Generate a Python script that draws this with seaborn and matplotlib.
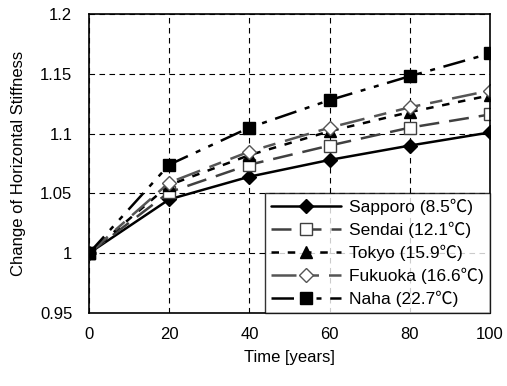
import matplotlib
matplotlib.use("Agg")
import matplotlib.pyplot as plt
import seaborn as sns
import pandas as pd

years = [0, 20, 40, 60, 80, 100]
sapporo = [1.000, 1.045, 1.064, 1.078, 1.090, 1.101]
sendai = [1.000, 1.051, 1.074, 1.090, 1.105, 1.116]
tokyo = [1.000, 1.057, 1.082, 1.102, 1.118, 1.132]
fukuoka = [1.000, 1.059, 1.085, 1.105, 1.122, 1.136]
naha = [1.000, 1.074, 1.105, 1.128, 1.148, 1.167]
labels = ["Sapporo (8.5℃)", "Sendai (12.1℃)", "Tokyo (15.9℃)",
          "Fukuoka (16.6℃)", "Naha (22.7℃)"]
x_ticks = [0, 20, 40, 60, 80, 100]
y_ticks = [0.95, 1.0, 1.05, 1.1, 1.15, 1.2]
y_ticklabels = ["0.95", "1", "1.05", "1.1", "1.15", "1.2"]

sns.set_style("white")
plt.rcParams["font.family"] = ["Liberation Sans", "Noto Sans CJK JP"]
plt.rcParams["text.color"] = "black"
plt.rcParams["axes.labelcolor"] = "black"
plt.rcParams["xtick.color"] = "black"
plt.rcParams["ytick.color"] = "black"

series = [sapporo, sendai, tokyo, fukuoka, naha]
df = pd.concat(
    [pd.DataFrame({"year": years, "value": v, "site": lab}) for v, lab in zip(series, labels)],
    ignore_index=True,
)

styles = {
    labels[0]: dict(color="black", marker="D", mfc="black", ls="-", ms=7.5),
    labels[1]: dict(color="#404040", marker="s", mfc="white", ls=(0, (8, 4)), ms=8.5),
    labels[2]: dict(color="black", marker="^", mfc="black", ls=(0, (3, 3.5)), ms=9),
    labels[3]: dict(color="#555555", marker="D", mfc="white", ls=(0, (10, 4, 5, 4)), ms=7.5),
    labels[4]: dict(color="black", marker="s", mfc="black", ls=(0, (9, 3.5, 2, 3.5, 2, 3.5)), ms=9),
}

fig = plt.figure(figsize=(5.07, 3.86), dpi=100)
ax = fig.add_axes([0.1755, 0.1891, 0.791, 0.7746])

for lab in labels:
    s = styles[lab]
    sub = df[df["site"] == lab]
    sns.lineplot(data=sub, x="year", y="value", ax=ax, color=s["color"],
                 marker=s["marker"], markersize=s["ms"], markerfacecolor=s["mfc"],
                 markeredgecolor=s["color"], markeredgewidth=1.0,
                 linestyle=s["ls"], linewidth=1.8, label=lab)

ax.set_xlim(0, 100)
ax.set_ylim(0.95, 1.2)
ax.set_xticks(x_ticks)
ax.set_yticks(y_ticks)
ax.set_yticklabels(y_ticklabels)
ax.tick_params(axis="y", labelsize=12, length=0, pad=12)
ax.tick_params(axis="x", labelsize=12, length=0, pad=10)
ax.grid(True, color="black", linestyle=(0, (5, 4)), linewidth=0.8)
for sp in ax.spines.values():
    sp.set_color("black")
    sp.set_linewidth(1.2)

ax.set_xlabel("Time [years]", fontsize=12, labelpad=6)
ax.set_ylabel("Change of Horizontal Stiffness", fontsize=12, labelpad=10)

leg = ax.legend(loc="lower right", fontsize=12.5, frameon=True, fancybox=False,
                borderaxespad=0.0, handlelength=4.0, handletextpad=0.5,
                labelspacing=0.38, borderpad=0.35)
leg.get_frame().set_edgecolor("black")
leg.get_frame().set_linewidth(1.0)

fig.savefig("out.png", dpi=100)
